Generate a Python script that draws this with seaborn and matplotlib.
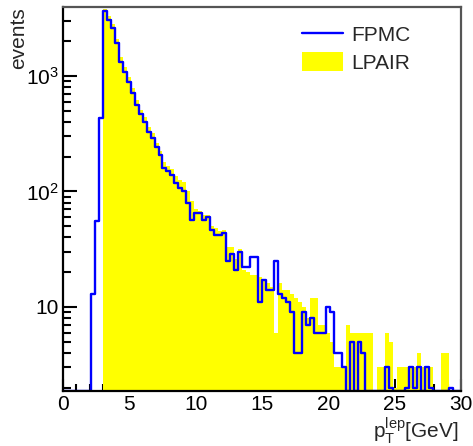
import numpy as np
import pandas as pd
import matplotlib
matplotlib.use('Agg')
import matplotlib.pyplot as plt
import seaborn as sns
from matplotlib.lines import Line2D
from matplotlib.patches import Patch
from matplotlib.ticker import FixedLocator, LogLocator, MultipleLocator, FixedFormatter, NullFormatter

# histogram: 100 bins of 0.3 GeV between 0 and 30
PT_MIN, PT_MAX, N_BINS = 0.0, 30.0, 100

fpmc = [
    0, 0, 0, 0, 0, 0, 0, 13, 55, 433,
    3650, 3050, 2600, 1920, 1330, 1090, 890, 710, 560, 470,
    400, 330, 290, 240, 205, 160, 150, 140, 118, 108,
    100, 80, 57, 65, 65, 57, 60, 46, 42, 42,
    44, 25, 29, 21, 30, 22, 22, 27, 27, 11,
    17, 14, 14, 25, 13, 12, 11, 9, 4, 4,
    9, 7, 8, 6, 6, 6, 10, 9, 4, 4,
    3, 0, 5, 0, 5, 4, 0, 0, 0, 0,
    0, 3, 2, 0, 0, 0, 2, 3, 2, 3,
    0, 3, 2, 0, 0, 0, 0, 2, 0, 0,
]

lpair = [
    0, 0, 0, 0, 0, 0, 0, 0, 0, 0,
    3800, 3300, 2800, 2100, 1450, 1200, 980, 780, 620, 510,
    440, 360, 320, 265, 225, 178, 165, 155, 135, 125,
    120, 100, 82, 70, 68, 62, 62, 50, 48, 45,
    46, 33, 33, 26, 32, 21, 20, 19, 19, 18,
    17, 16, 15, 6, 16, 14, 14, 13, 12, 11,
    10, 8, 12, 12, 7, 7, 6, 5, 3, 3,
    3, 7, 6, 6, 6, 6, 6, 6, 0, 3,
    3, 6, 5, 2, 3, 3, 3, 3, 3, 4,
    3, 3, 3, 0, 0, 4, 4, 0, 0, 0,
]

y_ticks = [10, 100, 1000]
y_tick_labels = ['10', r'$10^{2}$', r'$10^{3}$']
x_ticks = [0, 5, 10, 15, 20, 25, 30]

YMIN, YMAX = 1.87, 3950

edges = np.linspace(PT_MIN, PT_MAX, N_BINS + 1)
centers = 0.5 * (edges[:-1] + edges[1:])
df = pd.DataFrame({
    'pt': centers,
    'fpmc': np.clip(fpmc, YMIN, None),   # ROOT draws empty bins on the frame bottom
    'lpair': lpair,
})

sns.set_theme(style='white')
plt.rcParams['font.family'] = ['Liberation Sans', 'DejaVu Sans']
plt.rcParams['mathtext.fontset'] = 'custom'
plt.rcParams['mathtext.rm'] = 'Liberation Sans'
plt.rcParams['mathtext.it'] = 'Liberation Sans:italic'

fig = plt.figure(figsize=(4.73, 4.46), dpi=100)
ax = fig.add_axes([0.1332, 0.1233, 0.8414, 0.861])

hist_kws = dict(data=df, x='pt', bins=N_BINS, binrange=(PT_MIN, PT_MAX), element='step', ax=ax)
sns.histplot(weights='lpair', fill=True, color='#ffff00', alpha=1, linewidth=0, **hist_kws)
sns.histplot(weights='fpmc', fill=False, color='#0000ff', linewidth=1.7, **hist_kws)

ax.set_yscale('log')
ax.set_xlim(PT_MIN, PT_MAX)
ax.set_ylim(YMIN, YMAX)

ax.yaxis.set_major_locator(FixedLocator(y_ticks))
ax.yaxis.set_major_formatter(FixedFormatter(y_tick_labels))
ax.yaxis.set_minor_locator(LogLocator(base=10, subs=np.arange(2, 10)))
ax.yaxis.set_minor_formatter(NullFormatter())
ax.xaxis.set_major_locator(FixedLocator(x_ticks))
ax.xaxis.set_minor_locator(MultipleLocator(1))

ax.tick_params(axis='both', which='both', direction='in', top=False, right=False,
               left=True, bottom=True, colors='black', labelsize=15, width=1.5, pad=3)
ax.tick_params(axis='y', which='major', length=10)
ax.tick_params(axis='y', which='minor', length=5.5)
ax.tick_params(axis='x', which='major', length=9)
ax.tick_params(axis='x', which='minor', length=5)

for side in ['left', 'bottom']:
    ax.spines[side].set_color('black')
    ax.spines[side].set_linewidth(1.6)
for side in ['top', 'right']:
    ax.spines[side].set_color('#555555')
    ax.spines[side].set_linewidth(1.6)

ax.set_ylabel('events', fontsize=15, loc='top')
ax.yaxis.set_label_coords(-0.088, 1.0)
ax.set_xlabel(r'$\mathregular{p_{T}^{lep}}$[GeV]', fontsize=15, loc='right')
ax.xaxis.set_label_coords(0.995, -0.062)

handles = [Line2D([], [], color='#0000ff', linewidth=1.7),
           Patch(facecolor='#ffff00', edgecolor='none')]
ax.legend(handles, ['FPMC', 'LPAIR'], loc='upper left', bbox_to_anchor=(0.60, 0.955),
          frameon=False, fontsize=15, handlelength=2.0, handleheight=1.0,
          handletextpad=0.35, labelspacing=0.37, borderpad=0, borderaxespad=0)

fig.savefig('out.png', dpi=100)
